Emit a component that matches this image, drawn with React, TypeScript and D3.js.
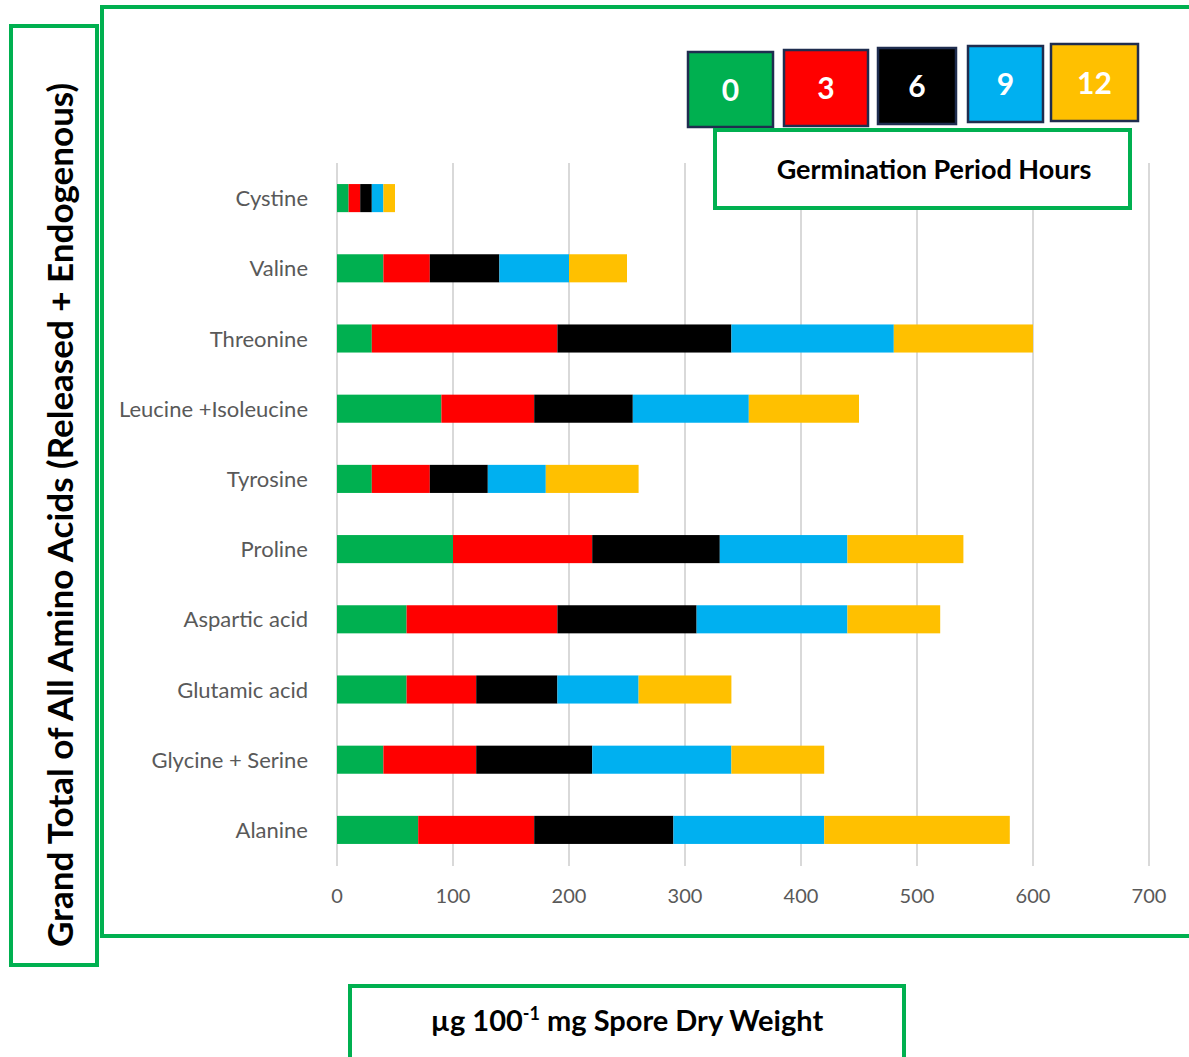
import * as d3 from 'd3';
import { useEffect, useRef } from 'react';

// amino acids, top to bottom
const categories = ['Cystine', 'Valine', 'Threonine', 'Leucine +Isoleucine', 'Tyrosine', 'Proline', 'Aspartic acid', 'Glutamic acid', 'Glycine + Serine', 'Alanine'];

// germination period hours
const hours = ['0', '3', '6', '9', '12'];
const hourColors = ['#00B050', '#FF0000', '#000000', '#00B0F0', '#FFC000'];

// values per hour, same order as categories
const h0 = [10, 40, 30, 90, 30, 100, 60, 60, 40, 70];
const h3 = [10, 40, 160, 80, 50, 120, 130, 60, 80, 100];
const h6 = [10, 60, 150, 85, 50, 110, 120, 70, 100, 120];
const h9 = [10, 60, 140, 100, 50, 110, 130, 70, 120, 130];
const h12 = [10, 50, 120, 95, 80, 100, 80, 80, 80, 160];

const xTicks = [0, 100, 200, 300, 400, 500, 600, 700];

const W = 1189;
const H = 1057;
const GREEN = '#00B050';
const FONT = 'Lato, Carlito, Calibri, sans-serif';

const App = () => {
    const ref = useRef<SVGSVGElement>(null);

    useEffect(() => {
        const svg = d3.select(ref.current);
        svg.selectAll('*').remove();

        const series = [h0, h3, h6, h9, h12];
        const rows = categories.map((c, i) => {
            const r: any = { name: c };
            hours.forEach((h, k) => { r[h] = series[k][i]; });
            return r;
        });
        const stacked = d3.stack().keys(hours)(rows);

        const x = d3.scaleLinear().domain([0, 700]).range([337, 1149]);
        const y = d3.scaleBand().domain(categories).range([163, 865]).paddingInner(0.6).paddingOuter(0.3);

        // outer chart frame
        svg.append('rect')
            .attr('x', 102).attr('y', 7).attr('width', 1100).attr('height', 929)
            .attr('fill', 'white').attr('stroke', GREEN).attr('stroke-width', 4);

        // gridlines
        svg.append('g')
            .selectAll('line')
            .data(xTicks)
            .enter().append('line')
            .attr('x1', d => x(d)).attr('x2', d => x(d))
            .attr('y1', 163).attr('y2', 866)
            .attr('stroke', '#d9d9d9').attr('stroke-width', 2);

        // tick labels
        svg.append('g')
            .selectAll('text')
            .data(xTicks)
            .enter().append('text')
            .attr('x', d => x(d)).attr('y', 903)
            .attr('text-anchor', 'middle')
            .attr('font-family', FONT).attr('font-size', 20).attr('fill', '#595959')
            .text(d => d);

        // category labels
        svg.append('g')
            .selectAll('text')
            .data(categories)
            .enter().append('text')
            .attr('x', 308).attr('y', d => (y(d) as number) + y.bandwidth() / 2 + 8)
            .attr('text-anchor', 'end')
            .attr('font-family', FONT).attr('font-size', 22).attr('fill', '#595959')
            .text(d => d);

        // stacked bars
        svg.append('g')
            .selectAll('g')
            .data(stacked)
            .enter().append('g')
            .attr('fill', (d, i) => hourColors[i])
            .selectAll('rect')
            .data(d => d)
            .enter().append('rect')
            .attr('x', d => x(d[0]))
            .attr('y', d => y(d.data.name as string) as number)
            .attr('width', d => x(d[1]) - x(d[0]))
            .attr('height', y.bandwidth());

        // legend squares
        const legendBoxes = [
            { x: 688, y: 52, w: 85, h: 75 },
            { x: 784, y: 50, w: 84, h: 76 },
            { x: 878, y: 48, w: 78, h: 76 },
            { x: 968, y: 46, w: 75, h: 76 },
            { x: 1051, y: 44, w: 87, h: 77 },
        ];
        const lg = svg.append('g')
            .selectAll('g')
            .data(hours)
            .enter().append('g');
        lg.append('rect')
            .attr('x', (d, i) => legendBoxes[i].x).attr('y', (d, i) => legendBoxes[i].y)
            .attr('width', (d, i) => legendBoxes[i].w).attr('height', (d, i) => legendBoxes[i].h)
            .attr('fill', (d, i) => hourColors[i])
            .attr('stroke', '#1F2D4F').attr('stroke-width', 2.5);
        lg.append('text')
            .attr('x', (d, i) => legendBoxes[i].x + legendBoxes[i].w / 2)
            .attr('y', (d, i) => legendBoxes[i].y + legendBoxes[i].h / 2 + 11)
            .attr('text-anchor', 'middle')
            .attr('font-family', FONT).attr('font-weight', 'bold').attr('font-size', 30).attr('fill', 'white')
            .text(d => d);

        // legend title box
        svg.append('rect')
            .attr('x', 715).attr('y', 130).attr('width', 415).attr('height', 78)
            .attr('fill', 'white').attr('stroke', GREEN).attr('stroke-width', 4);
        svg.append('text')
            .attr('x', 934).attr('y', 179)
            .attr('text-anchor', 'middle')
            .attr('font-family', FONT).attr('font-weight', 'bold').attr('font-size', 27).attr('fill', 'black')
            .text('Germination Period Hours');

        // y title box
        svg.append('rect')
            .attr('x', 11).attr('y', 26).attr('width', 86).attr('height', 939)
            .attr('fill', 'white').attr('stroke', GREEN).attr('stroke-width', 4);
        svg.append('text')
            .attr('transform', 'translate(73,515) rotate(-90)')
            .attr('text-anchor', 'middle')
            .attr('font-family', FONT).attr('font-weight', 'bold').attr('font-size', 35).attr('fill', 'black')
            .text('Grand Total of All Amino Acids (Released + Endogenous)');

        // x title box
        svg.append('rect')
            .attr('x', 350).attr('y', 986).attr('width', 554).attr('height', 90)
            .attr('fill', 'white').attr('stroke', GREEN).attr('stroke-width', 4);
        const xt = svg.append('text')
            .attr('x', 627).attr('y', 1031)
            .attr('text-anchor', 'middle')
            .attr('font-family', FONT).attr('font-weight', 'bold').attr('font-size', 29).attr('fill', 'black');
        xt.append('tspan').text('µg 100');
        xt.append('tspan').attr('font-size', 18).attr('dy', -11).text('-1');
        xt.append('tspan').attr('dy', 11).text(' mg Spore Dry Weight');
    }, []);

    return (
        <svg ref={ref} width={W} height={H} style={{ position: 'absolute', left: 0, top: 0, background: 'white' }} />
    );
};

export default App;
